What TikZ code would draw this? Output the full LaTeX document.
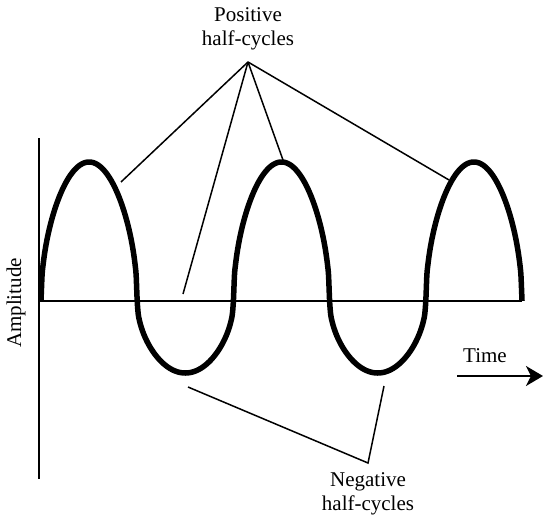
\documentclass[tikz,border=0pt]{standalone}
\usepackage{fontspec}
\setmainfont{Liberation Serif}
\usetikzlibrary{arrows.meta, positioning}

\begin{document}
\begin{tikzpicture}[
  x=1pt, y=-1pt,
  label/.style={align=center, font=\fontsize{21}{24}\selectfont, inner sep=0pt},
  axis/.style={line width=1.6pt},
  pointer/.style={line width=1.5pt},
  wave/.style={line width=5.5pt, line join=round},
  arrow/.style={-{Stealth[length=17pt, width=20pt, inset=5pt]}, line width=1.6pt},
]
  \useasboundingbox (0,0) rectangle (543,516);

  % axes
  \coordinate (top) at (39,138);
  \coordinate (bottom) at (39,479);
  \coordinate (origin) at (39,301);
  \coordinate (axisend) at (522,301);
  \draw[axis] (top) -- (bottom);
  \draw[axis] (origin) -- (axisend);

  % the wave, taller above the axis than below, with round full arches
  \draw[wave] plot[domain=0:900, samples=451, smooth]
    ({41 + \x/180*96.2}, {301 - (sin(\x) > 0 ? 139 : -72)*sqrt(abs(sin(\x)))});

  % labels
  \node[label] (pos) at (248,29) {Positive\\half-cycles};
  \node[label] (neg) at (368,494) {Negative\\half-cycles};
  \node[label, rotate=90] (amp) at (16,303) {Amplitude};
  \node[label] (time) at (485,356) {Time};

  % pointers to the positive half-cycles
  \coordinate (papex) at (248,62);
  \coordinate (p1) at (121,182);
  \coordinate (p2) at (183,294);
  \coordinate (p3) at (283,160);
  \coordinate (p4) at (449,180);
  \foreach \p in {p1,p2,p3,p4}
    \draw[pointer] (papex) -- (\p);

  % pointers to the negative half-cycles
  \coordinate (napex) at (368,463);
  \coordinate (n1) at (188,387);
  \coordinate (n2) at (384,386);
  \draw[pointer] (n1) -- (napex) -- (n2);

  % time arrow
  \coordinate (tstart) at (457,376);
  \coordinate (tend) at (543,376);
  \draw[arrow] (tstart) -- (tend);
\end{tikzpicture}
\end{document}
